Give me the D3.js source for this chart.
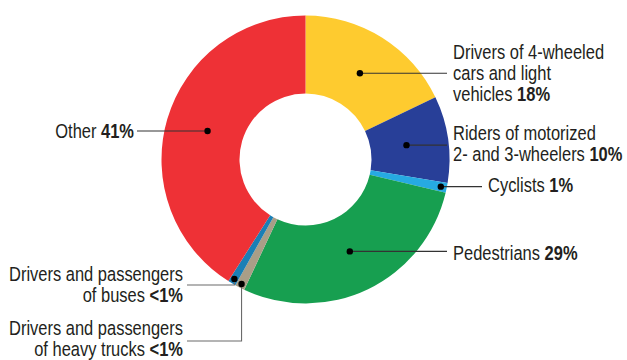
<!DOCTYPE html>
<html>
<head>
<meta charset="utf-8">
<script src="https://cdn.jsdelivr.net/npm/d3@7"></script>
<style>
    html, body { margin: 0; padding: 0; background: #fff; }
    svg { display: block; }
    text { font-family: "Liberation Sans", Arial, sans-serif; fill: #231f20; }
</style>
</head>
<body>
<script>
'use strict';

// slices, clockwise from 12 o'clock
const categories = [
    "Drivers of 4-wheeled cars and light vehicles",
    "Riders of motorized 2- and 3-wheelers",
    "Cyclists",
    "Pedestrians",
    "Drivers and passengers of heavy trucks",
    "Drivers and passengers of buses",
    "Other"
];
const shares = [17.9, 9.7, 1.1, 28.3, 1.1, 0.9, 41.0];
const shareLabels = ["18%", "10%", "1%", "29%", "<1%", "<1%", "41%"];
const labelLines = [
    ["Drivers of 4-wheeled", "cars and light", "vehicles"],
    ["Riders of motorized", "2- and 3-wheelers"],
    ["Cyclists"],
    ["Pedestrians"],
    ["Drivers and passengers", "of heavy trucks"],
    ["Drivers and passengers", "of buses"],
    ["Other"]
];
const colors = ["#fecb2f", "#283f98", "#26aae2", "#179f50", "#a99e87", "#1a7fb5", "#ee3136"];

(function() {
    const measurements = {
        width: 627,
        height: 360,
        cx: 305.5,
        cy: 159.5,
        inner: 66,
        outer: 144,
        lineHeight: 21,
        fontSize: 19.5,
        squeeze: 0.845   // condensed look
    };

    // label placement (layout only)
    const layout = [
        {dotR: 102, lineTo: 447, tx: 453, ty: 59, anchor: 'start'},
        {dotR: 102, lineTo: 447, tx: 453, ty: 140, anchor: 'start'},
        {dotR: 138, lineTo: 482, tx: 488, ty: 192, anchor: 'start'},
        {dotR: 102, lineTo: 447, tx: 453, ty: 260, anchor: 'start'},
        {dotR: 140, elbowY: 341, lineTo: 187, tx: 183, ty: 335, anchor: 'end', grey: true},
        {dotR: 139, elbowY: 285, lineTo: 187, tx: 183, ty: 281, anchor: 'end', grey: true},
        {dotR: 102, lineTo: 137, tx: 134, ty: 138, anchor: 'end'}
    ];

    const svg = d3.select('body')
        .append('svg')
        .attr('width', measurements.width)
        .attr('height', measurements.height);

    const data = categories.map((c, i) => ({
        name: c, value: shares[i], pct: shareLabels[i], lines: labelLines[i], color: colors[i]
    }));

    const pie = d3.pie()
        .sort(null)
        .value(d => d.value);
    const arcs = pie(data);

    const arc = d3.arc()
        .innerRadius(measurements.inner)
        .outerRadius(measurements.outer);

    const g = svg.append('g')
        .attr('transform', `translate(${measurements.cx},${measurements.cy})`);

    g.selectAll('path.slice')
        .data(arcs)
        .enter()
        .append('path')
        .attr('class', 'slice')
        .attr('d', arc)
        .attr('fill', d => d.data.color);

    // dot positions on each slice
    const points = arcs.map((d, i) => {
        const r = layout[i].dotR;
        const c = d3.arc().innerRadius(r).outerRadius(r).centroid(d);
        return [c[0] + measurements.cx, c[1] + measurements.cy];
    });

    // leader lines
    svg.selectAll('path.leader')
        .data(arcs)
        .enter()
        .append('path')
        .attr('class', 'leader')
        .attr('fill', 'none')
        .attr('stroke', (d, i) => layout[i].grey ? '#6b6b6b' : '#333')
        .attr('stroke-width', 1.1)
        .attr('d', (d, i) => {
            const p = points[i];
            const l = layout[i];
            if (l.elbowY !== undefined) {
                return `M${p[0]},${p[1]}V${l.elbowY}H${l.lineTo}`;
            }
            return `M${p[0]},${p[1]}H${l.lineTo}`;
        });

    svg.selectAll('circle.dot')
        .data(arcs)
        .enter()
        .append('circle')
        .attr('class', 'dot')
        .attr('cx', (d, i) => points[i][0])
        .attr('cy', (d, i) => points[i][1])
        .attr('r', 3.2)
        .attr('fill', '#000');

    // labels
    arcs.forEach((d, i) => {
        const l = layout[i];
        const t = svg.append('text')
            .attr('transform', `translate(${l.tx},${l.ty}) scale(${measurements.squeeze},1)`)
            .attr('text-anchor', l.anchor)
            .style('font-size', measurements.fontSize + 'px');
        const lines = d.data.lines;
        lines.forEach((line, j) => {
            const last = j === lines.length - 1;
            t.append('tspan')
                .attr('x', 0)
                .attr('dy', j === 0 ? 0 : measurements.lineHeight)
                .text(last ? line + ' ' : line);
            if (last) {
                t.append('tspan')
                    .style('font-weight', 'bold')
                    .text(d.data.pct);
            }
        });
    });
})();
</script>
</body>
</html>
